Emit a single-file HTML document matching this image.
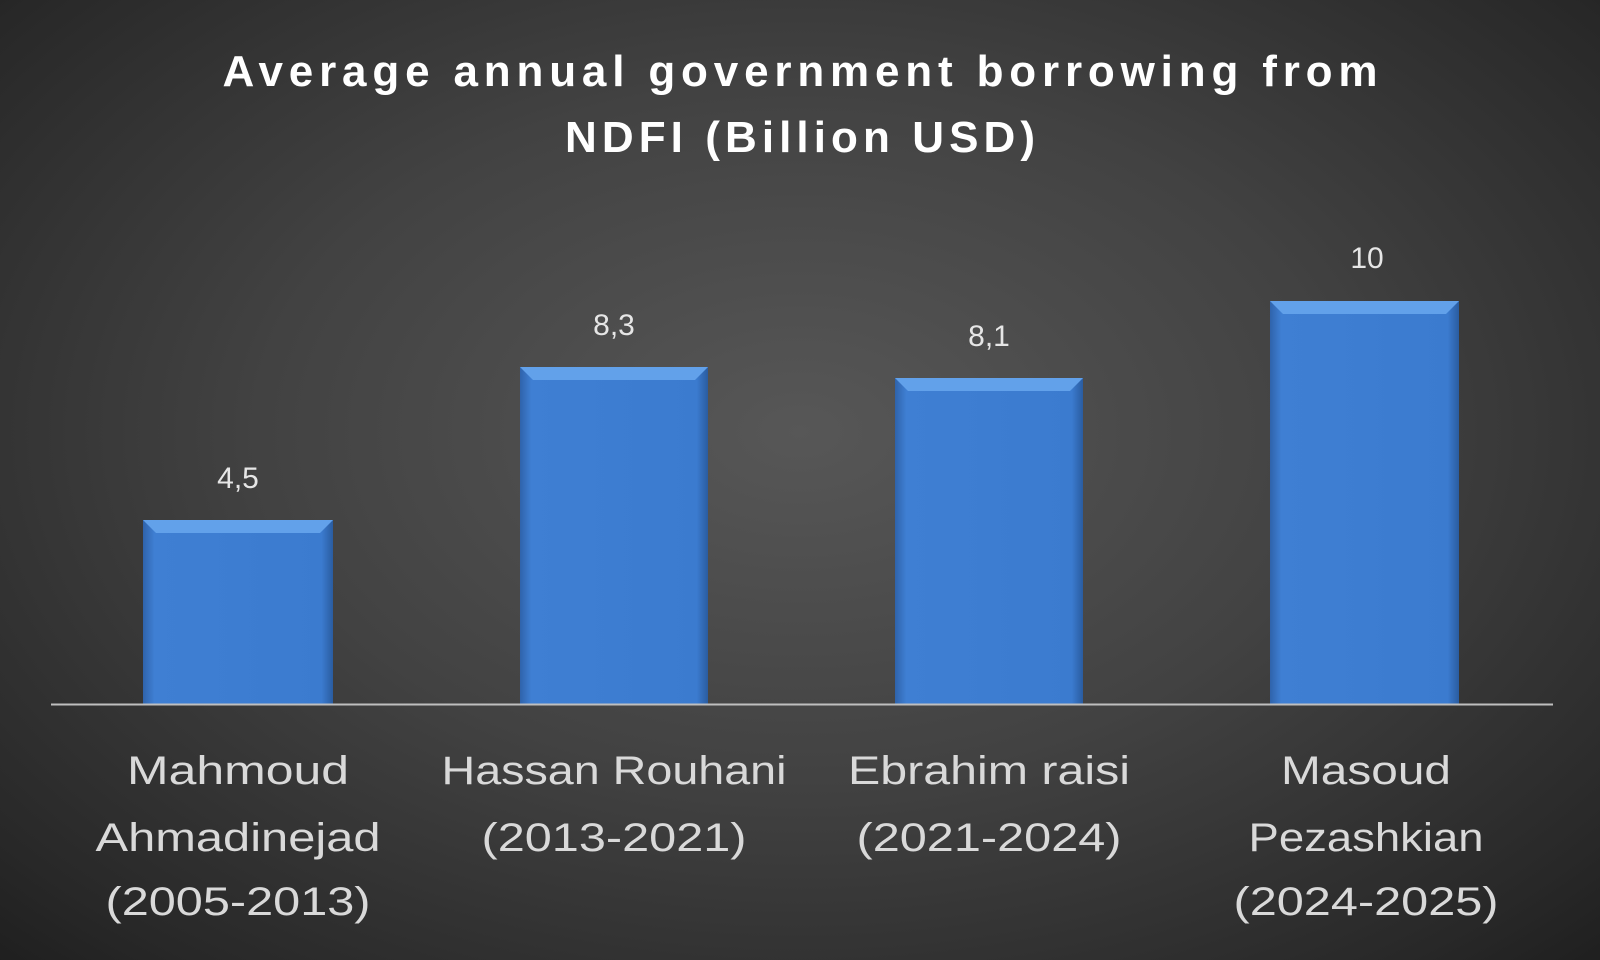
<!DOCTYPE html>
<html><head><meta charset="utf-8"><style>
html,body{margin:0;padding:0;width:1600px;height:960px;overflow:hidden}
body{background:radial-gradient(ellipse 75% 80% at 50% 45%,#575757 0%,#424242 45%,#282828 85%,#1c1c1c 100%)}
svg{position:absolute;left:0;top:0}
text{font-family:"Liberation Sans",sans-serif}
</style></head><body>
<svg width="1600" height="960" viewBox="0 0 1600 960">
<defs>
<linearGradient id="bg" x1="0" y1="0" x2="1" y2="0">
<stop offset="0" stop-color="#2f63ab"/><stop offset="0.06" stop-color="#3f7fd3"/><stop offset="0.94" stop-color="#3b7bcf"/><stop offset="1" stop-color="#2a5ca0"/>
</linearGradient>
</defs>
<g font-weight="bold" font-size="44" fill="#fff" text-anchor="middle">
<text x="800" y="86" textLength="1155" lengthAdjust="spacing">Average annual government borrowing from</text>
<text x="800" y="152" textLength="470" lengthAdjust="spacing">NDFI (Billion USD)</text>
</g>
<g id="bars">
<rect x="143" y="520" width="190" height="184" fill="url(#bg)"/>
<polygon points="143,520 333,520 320,533 156,533" fill="#62a1ea"/>
<rect x="520" y="367" width="188" height="337" fill="url(#bg)"/>
<polygon points="520,367 708,367 695,380 533,380" fill="#62a1ea"/>
<rect x="895" y="378" width="188" height="326" fill="url(#bg)"/>
<polygon points="895,378 1083,378 1070,391 908,391" fill="#62a1ea"/>
<rect x="1270" y="301" width="189" height="403" fill="url(#bg)"/>
<polygon points="1270,301 1459,301 1446,314 1283,314" fill="#62a1ea"/>
</g>
<line x1="51" y1="704.5" x2="1553" y2="704.5" stroke="#bfbfbf" stroke-width="2"/>
<g font-size="30" fill="#e6e6e6" text-anchor="middle">
<text x="238" y="488">4,5</text>
<text x="614" y="335">8,3</text>
<text x="989" y="346">8,1</text>
<text x="1367" y="268">10</text>
</g>
<g font-size="40" fill="#d9d9d9" text-anchor="middle">
<text x="238" y="784" textLength="222" lengthAdjust="spacingAndGlyphs">Mahmoud</text>
<text x="238" y="851" textLength="285" lengthAdjust="spacingAndGlyphs">Ahmadinejad</text>
<text x="238" y="915" textLength="265" lengthAdjust="spacingAndGlyphs">(2005-2013)</text>
<text x="614" y="784" textLength="345" lengthAdjust="spacingAndGlyphs">Hassan Rouhani</text>
<text x="614" y="851" textLength="265" lengthAdjust="spacingAndGlyphs">(2013-2021)</text>
<text x="989" y="784" textLength="282" lengthAdjust="spacingAndGlyphs">Ebrahim raisi</text>
<text x="989" y="851" textLength="265" lengthAdjust="spacingAndGlyphs">(2021-2024)</text>
<text x="1366" y="784" textLength="170" lengthAdjust="spacingAndGlyphs">Masoud</text>
<text x="1366" y="851" textLength="235" lengthAdjust="spacingAndGlyphs">Pezashkian</text>
<text x="1366" y="915" textLength="265" lengthAdjust="spacingAndGlyphs">(2024-2025)</text>
</g>
</svg>
</body></html>
